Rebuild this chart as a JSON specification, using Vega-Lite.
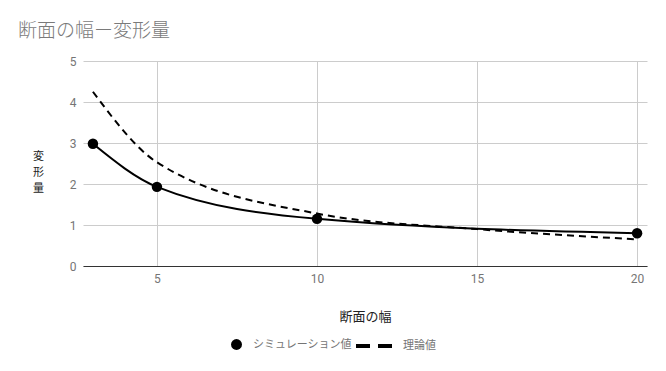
{
  "$schema": "https://vega.github.io/schema/vega-lite/v6.json",
  "width": 564,
  "height": 205,
  "autosize": {"type": "none"},
  "padding": {"left": 83, "top": 61, "right": 19, "bottom": 105},
  "background": "white",
  "config": {"view": {"stroke": null}, "font": "Noto Sans CJK JP"},
  "title": {
    "text": "断面の幅ー変形量",
    "anchor": "start",
    "frame": "group",
    "dx": -65,
    "offset": 14,
    "fontSize": 19,
    "fontWeight": 300,
    "color": "#7a7a7a",
    "font": "Noto Sans CJK JP"
  },
  "datasets": {
    "sim": [
      {"幅": 3, "変形量": 2.98, "name": "シミュレーション値"},
      {"幅": 5, "変形量": 1.93, "name": "シミュレーション値"},
      {"幅": 10, "変形量": 1.15, "name": "シミュレーション値"},
      {"幅": 20, "変形量": 0.8, "name": "シミュレーション値"}
    ],
    "theory": [
      {"幅": 3, "変形量": 4.25, "kind": "理論値"},
      {"幅": 5, "変形量": 2.53, "kind": "理論値"},
      {"幅": 10, "変形量": 1.28, "kind": "理論値"},
      {"幅": 15, "変形量": 0.9, "kind": "理論値"},
      {"幅": 20, "変形量": 0.65, "kind": "理論値"}
    ]
  },
  "encoding": {
    "x": {
      "field": "幅",
      "type": "quantitative",
      "scale": {"domain": [2.69, 20.31], "nice": false, "zero": false},
      "axis": {
        "values": [5, 10, 15, 20],
        "title": "断面の幅",
        "titleFont": "Noto Sans CJK JP",
        "titleFontSize": 13,
        "titleFontWeight": "normal",
        "titleColor": "#222222",
        "titlePadding": 26,
        "labelFont": "Roboto",
        "labelFontSize": 12,
        "labelColor": "#757575",
        "labelPadding": 7,
        "ticks": false,
        "tickSize": 0,
        "domain": true,
        "domainColor": "#333333",
        "grid": true,
        "gridColor": "#cccccc"
      }
    },
    "y": {
      "field": "変形量",
      "type": "quantitative",
      "scale": {"domain": [0, 5], "nice": false},
      "axis": {
        "values": [0, 1, 2, 3, 4, 5],
        "title": ["変", "形", "量"],
        "titleAngle": 0,
        "titleX": -45,
        "titleY": 89,
        "titleAlign": "center",
        "titleBaseline": "top",
        "titleLineHeight": 16,
        "titleFont": "Noto Sans CJK JP",
        "titleFontSize": 11,
        "titleFontWeight": "normal",
        "titleColor": "#222222",
        "labelFont": "Roboto",
        "labelFontSize": 12,
        "labelColor": "#757575",
        "labelPadding": 7,
        "ticks": false,
        "tickSize": 0,
        "domain": false,
        "grid": true,
        "gridColor": "#cccccc"
      }
    }
  },
  "layer": [
    {
      "data": {"name": "theory"},
      "mark": {"type": "line", "interpolate": "monotone", "strokeWidth": 2, "strokeDash": [7, 5], "color": "black"},
      "encoding": {
        "color": {
          "field": "kind",
          "type": "nominal",
          "scale": {"range": ["black"]},
          "legend": {
            "orient": "none",
            "legendX": 271,
            "legendY": 265,
            "title": null,
            "symbolType": "stroke",
            "symbolSize": 1296,
            "symbolStrokeWidth": 4,
            "symbolDash": [14, 8],
            "symbolStrokeColor": "black",
            "labelFont": "Noto Sans CJK JP",
            "labelFontSize": 11,
            "labelColor": "#757575",
            "labelOffset": 9,
            "encode": {"symbols": {"update": {"strokeDash": {"value": [14, 8]}, "strokeWidth": {"value": 4}}}}
          }
        }
      }
    },
    {
      "data": {"name": "sim"},
      "mark": {"type": "line", "interpolate": "monotone", "strokeWidth": 2, "color": "black"}
    },
    {
      "data": {"name": "sim"},
      "mark": {"type": "point", "filled": true, "color": "black", "size": 110, "opacity": 1},
      "encoding": {
        "shape": {
          "field": "name",
          "type": "nominal",
          "scale": {"range": ["circle"]},
          "legend": {
            "orient": "none",
            "legendX": 147,
            "legendY": 277,
            "title": null,
            "symbolType": "circle",
            "symbolSize": 120,
            "symbolFillColor": "black",
            "symbolStrokeColor": "black",
            "symbolOpacity": 1,
            "labelFont": "Noto Sans CJK JP",
            "labelFontSize": 11,
            "labelColor": "#757575",
            "labelOffset": 10
          }
        }
      }
    }
  ]
}
